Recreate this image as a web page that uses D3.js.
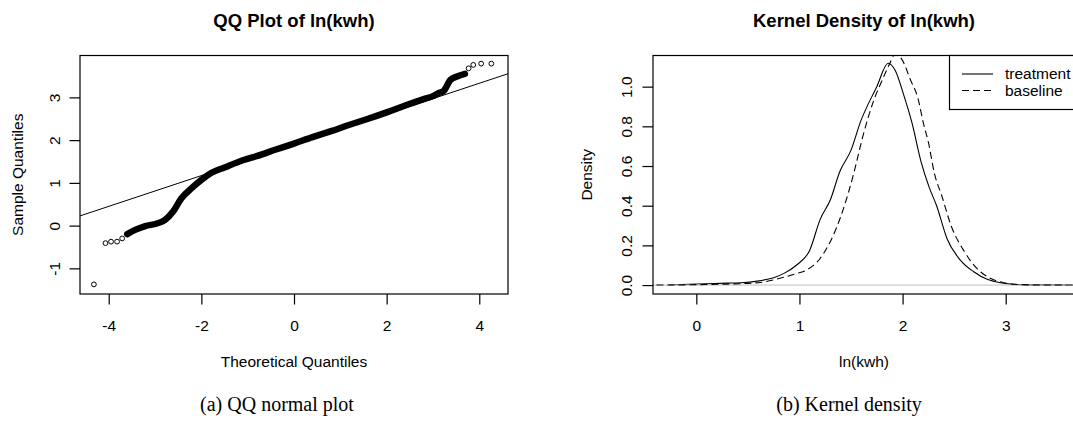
<!DOCTYPE html>
<html>
<head>
<meta charset="utf-8">
<script src="https://cdn.jsdelivr.net/npm/d3@7"></script>
<style>
  body { margin: 0; background: #fff; }
  svg { display: block; font-family: "Liberation Sans", Arial, sans-serif; }
</style>
</head>
<body>
<svg id="chart" width="1073" height="427"></svg>
<script>
// QQ plot: dense band of sample quantiles (theoretical, sample)
const qqBandTheo = [-3.6, -3.43, -3.21, -2.96, -2.79, -2.61, -2.43, -2.21, -2.0, -1.79, -1.5, -1.07, -0.79,
  -0.39, 0.0, 0.4, 0.8, 1.2, 1.6, 2.0, 2.4, 2.8, 3.0, 3.1, 3.23, 3.37, 3.52, 3.69];
const qqBandSample = [-0.2, -0.1, -0.01, 0.05, 0.13, 0.33, 0.64, 0.875, 1.07, 1.23, 1.36, 1.54, 1.63,
  1.78, 1.92, 2.07, 2.21, 2.36, 2.5, 2.65, 2.81, 2.96, 3.03, 3.09, 3.15, 3.4, 3.49, 3.55];
// isolated points in the tails
const qqTailTheo = [-4.32, -4.07, -3.95, -3.82, -3.71, 3.77, 3.87, 4.04, 4.26];
const qqTailSample = [-1.375, -0.41, -0.375, -0.375, -0.3, 3.68, 3.76, 3.79, 3.79];
// qqline
const qqIntercept = 1.89;
const qqSlope = 0.36;
const qqXTicks = [-4, -2, 0, 2, 4];
const qqYTicks = [-1, 0, 1, 2, 3];

// kernel densities
const treatX = [-0.27, -0.07, 0.1, 0.3, 0.43, 0.59, 0.75, 0.85, 0.97, 1.1, 1.2, 1.3, 1.39, 1.5, 1.59, 1.75, 1.86,
  1.93, 2.01, 2.09, 2.18, 2.26, 2.33, 2.43, 2.56, 2.69, 2.82, 2.95, 3.05, 3.2, 3.59];
const treatY = [0, 0.004, 0.007, 0.01, 0.012, 0.02, 0.037, 0.059, 0.1, 0.176, 0.33, 0.43, 0.57, 0.68, 0.82, 1.0, 1.118,
  1.08, 0.96, 0.82, 0.62, 0.49, 0.4, 0.235, 0.126, 0.067, 0.029, 0.012, 0.005, 0.001, 0];
const baseX = [-0.6, -0.3, 0.0, 0.3, 0.6, 0.81, 0.95, 1.07, 1.2, 1.3, 1.43, 1.52, 1.62, 1.72, 1.8, 1.87, 1.93,
  1.99, 2.08, 2.15, 2.2, 2.25, 2.31, 2.38, 2.47, 2.6, 2.72, 2.85, 2.98, 3.11, 3.4, 4.0];
const baseY = [0, 0, 0.002, 0.005, 0.012, 0.034, 0.055, 0.076, 0.134, 0.22, 0.39, 0.55, 0.76, 0.93, 1.03, 1.11, 1.165,
  1.14, 1.03, 0.94, 0.82, 0.72, 0.56, 0.45, 0.3, 0.168, 0.084, 0.034, 0.012, 0.003, 0, 0];
const densXTicks = [0, 1, 2, 3];
const densYTicks = [0, 0.2, 0.4, 0.6, 0.8, 1.0];
const legendLabels = ['treatment', 'baseline'];

const svg = d3.select('#chart');
const fs = 15.5;
const plotTop = 55.5, plotBottom = 294;
// R prints a plain hyphen for negatives
const intFmt = d => String(d);

function box(g, x0, x1) {
  g.append('rect')
    .attr('x', x0).attr('y', plotTop)
    .attr('width', x1 - x0).attr('height', plotBottom - plotTop)
    .attr('fill', 'none').attr('stroke', '#000').attr('stroke-width', 1.2);
}

function axes(g, x, y, xt, yt, yfmt, ylabX) {
  const ax = g.append('g')
    .attr('transform', `translate(0,${plotBottom})`)
    .call(d3.axisBottom(x).tickValues(xt).tickSize(10.5).tickFormat(intFmt));
  ax.select('.domain').remove();
  ax.selectAll('line').attr('stroke', '#000').attr('stroke-width', 1.2);
  ax.selectAll('text').attr('font-size', fs).attr('fill', '#000').attr('dy', null).attr('y', 37);

  const ay = g.append('g')
    .attr('transform', `translate(${x.range()[0]},0)`)
    .call(d3.axisLeft(y).tickValues(yt).tickSize(10.5).tickFormat(yfmt));
  ay.select('.domain').remove();
  ay.selectAll('line').attr('stroke', '#000').attr('stroke-width', 1.2);
  ay.selectAll('text')
    .attr('font-size', fs).attr('fill', '#000')
    .attr('x', null).attr('dy', null)
    .attr('text-anchor', 'middle')
    .attr('transform', `translate(${ylabX - x.range()[0]},0) rotate(-90)`);
}

// ---------- left panel: QQ plot ----------
const xq = d3.scaleLinear().domain([-4.62, 4.62]).range([80, 508]);
const yq = d3.scaleLinear().domain([-1.6, 3.98]).range([plotBottom, plotTop]);
const left = svg.append('g');

left.append('defs').append('clipPath').attr('id', 'clipL')
  .append('rect').attr('x', 80).attr('y', plotTop).attr('width', 428).attr('height', plotBottom - plotTop);

const plotL = left.append('g').attr('clip-path', 'url(#clipL)');
const band = d3.zip(qqBandTheo, qqBandSample);
plotL.append('path')
  .attr('d', d3.line().x(d => xq(d[0])).y(d => yq(d[1])).curve(d3.curveMonotoneX)(band))
  .attr('fill', 'none').attr('stroke', '#000').attr('stroke-width', 6.5)
  .attr('stroke-linecap', 'round').attr('stroke-linejoin', 'round');

plotL.selectAll('circle.tail')
  .data(d3.zip(qqTailTheo, qqTailSample))
  .enter().append('circle')
  .attr('cx', d => xq(d[0])).attr('cy', d => yq(d[1])).attr('r', 2.4)
  .attr('fill', 'none').attr('stroke', '#000').attr('stroke-width', 1);

plotL.append('line')
  .attr('x1', xq(-4.62)).attr('y1', yq(qqIntercept + qqSlope * -4.62))
  .attr('x2', xq(4.62)).attr('y2', yq(qqIntercept + qqSlope * 4.62))
  .attr('stroke', '#000').attr('stroke-width', 1);

box(left, 80, 508);
axes(left, xq, yq, qqXTicks, qqYTicks, intFmt, 60);

left.append('text').attr('x', 294).attr('y', 27).attr('text-anchor', 'middle')
  .attr('font-size', 18.5).attr('font-weight', 'bold').text('QQ Plot of ln(kwh)');
left.append('text').attr('x', 294).attr('y', 366.5).attr('text-anchor', 'middle')
  .attr('font-size', fs).text('Theoretical Quantiles');
left.append('text').attr('transform', `translate(23,${(plotTop + plotBottom) / 2}) rotate(-90)`)
  .attr('text-anchor', 'middle').attr('font-size', fs).text('Sample Quantiles');

// ---------- right panel: kernel density ----------
const xd = d3.scaleLinear().domain([-0.42, 3.73]).range([653, 1081]);
const yd = d3.scaleLinear().domain([-0.045, 1.157]).range([plotBottom, plotTop]);
const right = svg.append('g');

right.append('defs').append('clipPath').attr('id', 'clipR')
  .append('rect').attr('x', 653).attr('y', plotTop).attr('width', 428).attr('height', plotBottom - plotTop);

const plotR = right.append('g').attr('clip-path', 'url(#clipR)');
const dline = d3.line().x(d => xd(d[0])).y(d => yd(d[1])).curve(d3.curveMonotoneX);

plotR.append('path').attr('d', dline(d3.zip(treatX, treatY)))
  .attr('fill', 'none').attr('stroke', '#000').attr('stroke-width', 1.1);
plotR.append('line')
  .attr('x1', 653).attr('x2', 1081).attr('y1', yd(0)).attr('y2', yd(0))
  .attr('stroke', '#bebebe').attr('stroke-width', 1);
plotR.append('path').attr('d', dline(d3.zip(baseX, baseY)))
  .attr('fill', 'none').attr('stroke', '#000').attr('stroke-width', 1.1)
  .attr('stroke-dasharray', '7,4');

box(right, 653, 1081);
axes(right, xd, yd, densXTicks, densYTicks, d3.format('.1f'), 632);

// legend
const lg = right.append('g');
lg.append('rect').attr('x', 949.5).attr('y', plotTop).attr('width', 140).attr('height', 109.5 - plotTop)
  .attr('fill', '#fff').attr('stroke', '#000').attr('stroke-width', 1.2);
legendLabels.forEach((lab, i) => {
  const yy = 74 + i * 16.5;
  lg.append('line').attr('x1', 962).attr('x2', 993).attr('y1', yy).attr('y2', yy)
    .attr('stroke', '#000').attr('stroke-width', 1.1)
    .attr('stroke-dasharray', i === 1 ? '7,4' : null);
  lg.append('text').attr('x', 1005).attr('y', yy + 5).attr('font-size', fs).text(lab);
});

right.append('text').attr('x', 864).attr('y', 27).attr('text-anchor', 'middle')
  .attr('font-size', 18.5).attr('font-weight', 'bold').text('Kernel Density of ln(kwh)');
right.append('text').attr('x', 864).attr('y', 366.5).attr('text-anchor', 'middle')
  .attr('font-size', fs).text('ln(kwh)');
right.append('text').attr('transform', `translate(591.5,${(plotTop + plotBottom) / 2}) rotate(-90)`)
  .attr('text-anchor', 'middle').attr('font-size', fs).text('Density');

// captions
svg.append('text').attr('x', 277).attr('y', 411).attr('text-anchor', 'middle')
  .attr('font-family', '"Liberation Serif", "Times New Roman", serif').attr('font-size', 20)
  .text('(a) QQ normal plot');
svg.append('text').attr('x', 849).attr('y', 411).attr('text-anchor', 'middle')
  .attr('font-family', '"Liberation Serif", "Times New Roman", serif').attr('font-size', 20)
  .text('(b) Kernel density');
</script>
</body>
</html>
